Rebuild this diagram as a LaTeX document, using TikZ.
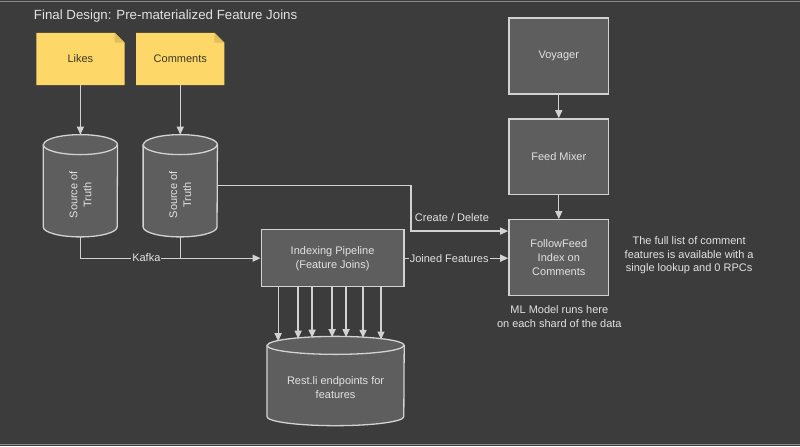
\documentclass[tikz,border=0pt]{standalone}
\usepackage{fontspec}
\setmainfont{Liberation Sans}
\usetikzlibrary{arrows.meta,calc}
\pgfdeclarelayer{back}
\pgfdeclarelayer{bg}
\pgfsetlayers{back,bg,main}
\definecolor{bgc}{HTML}{3C3C3C}
\definecolor{boxc}{HTML}{5E5E5E}
\definecolor{linec}{HTML}{D2D2D2}
\definecolor{txtc}{HTML}{E2E2E2}
\definecolor{notec}{HTML}{FDD869}
\definecolor{foldc}{HTML}{E3BF5A}
\definecolor{notetxt}{HTML}{3A3626}
\definecolor{edgec}{HTML}{8A8A8A}
\newcommand\mydbcyl[3]{%
  \filldraw[cylsty] ([yshift=-#3pt]#1.north west) -- ([yshift=#3pt]#1.south west)
    arc[start angle=180,end angle=360,x radius=#2,y radius=#3]
    -- ([yshift=-#3pt]#1.north east)
    arc[start angle=0,end angle=180,x radius=#2,y radius=#3] -- cycle;
  \draw[cylsty] ([yshift=-#3pt]#1.north west)
    arc[start angle=180,end angle=360,x radius=#2,y radius=#3];}
\begin{document}
\begin{tikzpicture}[x=1pt,y=1pt,
  txt/.style={text=txtc,font=\fontsize{11}{14}\selectfont,align=center},
  box/.style={txt,draw=linec,fill=boxc,line width=1.3pt,minimum width=100,minimum height=76,inner sep=0},
  note/.style={text=notetxt,font=\fontsize{11}{14}\selectfont,minimum width=88,minimum height=52,inner sep=0},
  cylnode/.style={minimum width=74,minimum height=102,inner sep=0},
  cylsty/.style={draw=linec,fill=boxc,line width=1.3pt},
  ln/.style={draw=linec,line width=1.3pt},
  arr/.style={ln,-{Triangle[length=8pt,width=7pt]}},
  lbl/.style={txt,fill=bgc,inner sep=1pt}]
\begin{pgfonlayer}{back}
\fill[bgc] (0,0) rectangle (800,-447);
\draw[edgec,line width=1pt] (0,-1.5) -- (800,-1.5);
\draw[edgec,line width=1pt] (0,-445.5) -- (800,-445.5);
\end{pgfonlayer}
\useasboundingbox (0,0) rectangle (800,-447);

\node[anchor=west,text=txtc,font=\fontsize{13.3}{15}\selectfont] (title) at (30,-16) {Final Design: Pre-materialized Feature Joins};

% notes
\node[note] (likes) at (80,-59) {Likes};
\node[note] (comm) at (180,-59) {Comments};
\begin{pgfonlayer}{bg}
\foreach \n in {likes,comm}{
  \fill[notec] (\n.north west) -- ([xshift=-10pt]\n.north east) -- ([yshift=-10pt]\n.north east) -- (\n.south east) -- (\n.south west) -- cycle;
  \fill[foldc] ([xshift=-10pt]\n.north east) -- ([xshift=-10pt,yshift=-10pt]\n.north east) -- ([yshift=-10pt]\n.north east) -- cycle;
}
\end{pgfonlayer}

% cylinders
\node[cylnode] (src1) at (80,-186) {};
\node[cylnode] (src2) at (180,-186) {};
\node[cylnode,minimum width=137,minimum height=89] (rest) at (335.5,-381.5) {};
\begin{pgfonlayer}{bg}
\mydbcyl{src1}{37}{10}
\mydbcyl{src2}{37}{10}
\mydbcyl{rest}{68.5}{9}
\end{pgfonlayer}
\node[txt,rotate=90] (src1t) at (80,-195) {Source of\\Truth};
\node[txt,rotate=90] (src2t) at (180,-195) {Source of\\Truth};
\node[txt] (restt) at (335.5,-388) {Rest.li endpoints for\\features};

% boxes
\node[box] (voy) at (559,-56) {Voyager};
\node[box] (mix) at (559,-157) {Feed Mixer};
\node[box] (ff) at (559,-258) {FollowFeed\\Index on\\Comments};
\node[box,minimum width=143,minimum height=57] (pipe) at (332.5,-258.5) {Indexing Pipeline\\(Feature Joins)};

% connectors
\draw[arr] (likes.south) -- (src1.north);
\draw[arr] (comm.south) -- (src2.north);
\draw[arr] (src1.south) |- (pipe.west);
\draw[ln] (src2.south) -- (src2.south |- pipe.west);
\node[lbl] (kafka) at (146,-258) {Kafka};
\draw[arr] (src2.east) -- (411,-186) |- ($(ff.north west)+(0,-12)$);
\node[txt] (cd) at (452,-218) {Create / Delete};
\draw[arr] (pipe.east) -- (ff.west |- pipe.east) node[lbl,pos=0.43] (jf) {Joined Features};
\draw[arr] (voy) -- (mix);
\draw[arr] (mix) -- (ff);
\foreach \dx/\len in {-54.5/54,-34.5/51.5,-20.5/50.5,-0.5/50,13.5/50,30.5/50.7,48.5/52.3}
  \draw[arr] ([xshift=\dx pt]pipe.south) -- ++(0,-\len);

% free texts
\node[txt] (ml) at (559.5,-316.5) {ML Model runs here\\on each shard of the data};
\node[txt,font=\fontsize{11}{13.5}\selectfont] (full) at (689.5,-255.5) {The full list of comment\\features is available with a\\single lookup and 0 RPCs};
\end{tikzpicture}
\end{document}
